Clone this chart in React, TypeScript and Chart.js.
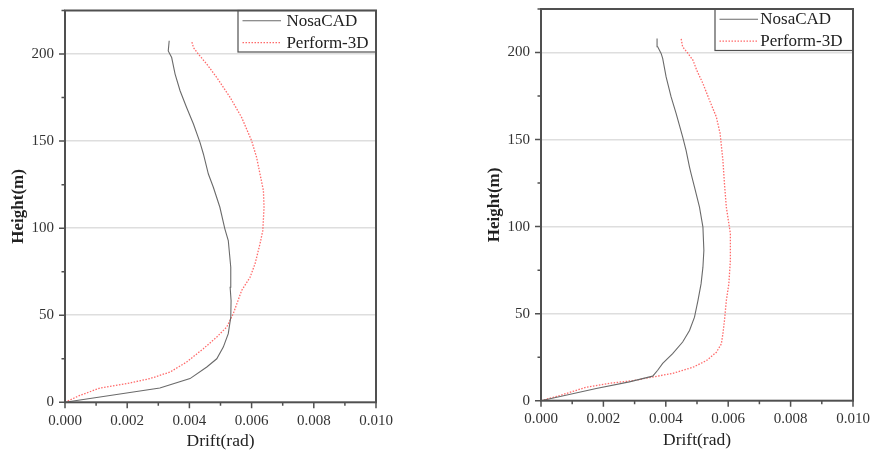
import React, { useEffect, useRef } from "react";
import { Chart, registerables } from "chart.js";

Chart.register(...registerables);

// ---- data ----
const seriesNames = ["NosaCAD", "Perform-3D"];
const xTickValues = [0, 0.002, 0.004, 0.006, 0.008, 0.01];
const yTickValues = [0, 50, 100, 150, 200];

// left panel
const leftNosaHeight = [0, 8.2, 13.6, 20.3, 25, 31.7, 39.4, 48.9, 58.5, 66.1, 77.6, 92.9, 99.6, 112, 123.5, 131.1, 142.6, 149.3, 159.8, 169.3, 178.9, 188.5, 198, 201.8, 207.6];
const leftNosaDrift = [0, 0.00305, 0.00402, 0.00456, 0.00488, 0.00509, 0.00525, 0.00533, 0.00534, 0.00531, 0.00533, 0.00525, 0.00514, 0.00498, 0.00477, 0.00461, 0.00445, 0.00434, 0.00413, 0.00391, 0.0037, 0.00354, 0.00343, 0.00332, 0.00335];
const leftPerfHeight = [0, 4, 8.2, 10.7, 13.6, 17.4, 23.1, 30.8, 37.5, 43.2, 50.9, 64.2, 71.8, 79.5, 91, 98.6, 112, 121.6, 131.1, 140.7, 150.2, 163.6, 175.1, 186.5, 194.2, 199.9, 203.7, 207.6];
const leftPerfDrift = [0, 0.00048, 0.00113, 0.00198, 0.00273, 0.00338, 0.00391, 0.00445, 0.00488, 0.0052, 0.00541, 0.00568, 0.00595, 0.00611, 0.00627, 0.00636, 0.0064, 0.00638, 0.00627, 0.00616, 0.006, 0.00568, 0.00531, 0.00488, 0.00456, 0.00429, 0.00413, 0.00407];

// right panel
const rightNosaHeight = [0, 7, 10.8, 14.1, 17.5, 21.4, 27, 33.7, 40.3, 48, 57.5, 67.1, 76.7, 86.3, 99.7, 111.2, 122.7, 130.4, 134.2, 143.8, 151.5, 165, 174.5, 186, 196.6, 199.5, 203.3, 208];
const rightNosaDrift = [0, 0.00177, 0.00283, 0.00358, 0.00374, 0.0039, 0.00422, 0.00454, 0.00476, 0.00492, 0.00503, 0.00513, 0.00519, 0.00522, 0.00519, 0.00508, 0.00492, 0.00481, 0.00476, 0.00465, 0.00454, 0.00433, 0.00417, 0.00401, 0.0039, 0.00385, 0.00374, 0.00372];
const rightPerfHeight = [0, 2.9, 7.7, 10, 11.5, 13.8, 15.7, 19.2, 23, 27.8, 32.6, 38.4, 46, 57.5, 67.1, 80.6, 95.9, 111.2, 124.7, 138.1, 153.5, 163, 172.6, 182.2, 189.9, 195.6, 199.5, 203.3, 208];
const rightPerfDrift = [0, 0.00059, 0.00144, 0.00219, 0.00294, 0.00364, 0.00422, 0.00487, 0.0053, 0.00562, 0.00578, 0.00583, 0.00588, 0.00594, 0.00602, 0.00607, 0.00607, 0.00594, 0.00588, 0.00583, 0.00574, 0.00562, 0.0054, 0.00519, 0.00499, 0.00487, 0.00471, 0.00454, 0.00449];

const SERIF = '"Liberation Serif", "Times New Roman", serif';
const AXIS_COLOR = "#505050";
const NOSA_COLOR = "#6a6a6a";
const PERF_COLOR = "rgba(255,90,90,0.9)";

type PanelProps = {
  nosaH: number[];
  nosaD: number[];
  perfH: number[];
  perfD: number[];
  left: number;
  width: number;
  padTop: number;
  padRight: number;
  xAxisHeight: number;
  xTitlePad: number;
  legendTextOffset: number;
};

function isMajorX(v: number) {
  const k = Math.round(v * 1000);
  return xTickValues.some((t) => Math.round(t * 1000) === k);
}
function isMajorY(v: number) {
  return yTickValues.includes(Math.round(v));
}

function Panel(p: PanelProps) {
  const ref = useRef<HTMLCanvasElement | null>(null);
  useEffect(() => {
    if (!ref.current) return;
    const toPts = (h: number[], d: number[]) => h.map((y, i) => ({ x: d[i], y }));
    const frame = {
      id: "frameTicksLegend",
      afterDraw(chart: any) {
        const { ctx, chartArea: ca, scales } = chart;
        const xs = scales.x;
        const ys = scales.y;
        ctx.save();
        // ticks
        ctx.strokeStyle = AXIS_COLOR;
        ctx.lineWidth = 1.5;
        ctx.beginPath();
        ys.ticks.forEach((t: any) => {
          const py = ys.getPixelForValue(t.value);
          const len = isMajorY(t.value) ? 6 : 3.5;
          ctx.moveTo(ca.left - len, py);
          ctx.lineTo(ca.left, py);
        });
        xs.ticks.forEach((t: any) => {
          const px = xs.getPixelForValue(t.value);
          const len = isMajorX(t.value) ? 6 : 3.5;
          ctx.moveTo(px, ca.bottom);
          ctx.lineTo(px, ca.bottom + len);
        });
        ctx.stroke();
        // legend
        const bw = 138;
        const bh = 41.5;
        const bx = ca.right - bw;
        const by = ca.top;
        ctx.fillStyle = "#fff";
        ctx.fillRect(bx, by, bw, bh);
        ctx.strokeStyle = AXIS_COLOR;
        ctx.lineWidth = 1.2;
        ctx.strokeRect(bx, by, bw, bh);
        const rows = [by + 10.3, by + 32.2];
        chart.data.datasets.forEach((ds: any, i: number) => {
          const y = rows[i];
          ctx.beginPath();
          ctx.strokeStyle = ds.borderColor;
          ctx.lineWidth = ds.borderWidth;
          ctx.setLineDash(ds.borderDash || []);
          ctx.moveTo(bx + 4.5, y);
          ctx.lineTo(bx + 43, y);
          ctx.stroke();
          ctx.setLineDash([]);
          ctx.fillStyle = "#222";
          ctx.font = "17px " + SERIF;
          ctx.textBaseline = "middle";
          ctx.textAlign = "left";
          ctx.fillText(ds.label, bx + p.legendTextOffset, y + 0.5);
        });
        // frame
        ctx.strokeStyle = AXIS_COLOR;
        ctx.lineWidth = 2;
        ctx.strokeRect(ca.left, ca.top, ca.right - ca.left, ca.bottom - ca.top);
        ctx.restore();
      },
    };
    const chart = new Chart(ref.current, {
      type: "line",
      data: {
        datasets: [
          {
            label: seriesNames[0],
            data: toPts(p.nosaH, p.nosaD),
            borderColor: NOSA_COLOR,
            borderWidth: 1.1,
            pointRadius: 0,
            tension: 0,
            fill: false,
          },
          {
            label: seriesNames[1],
            data: toPts(p.perfH, p.perfD),
            borderColor: PERF_COLOR,
            borderWidth: 1.3,
            borderDash: [1.5, 1.5],
            pointRadius: 0,
            tension: 0,
            fill: false,
          },
        ],
      },
      options: {
        animation: false,
        responsive: false,
        devicePixelRatio: 1,
        layout: { padding: { left: 0, top: p.padTop, right: p.padRight, bottom: 0 } },
        plugins: { legend: { display: false }, tooltip: { enabled: false } },
        scales: {
          x: {
            type: "linear",
            min: 0,
            max: 0.01,
            border: { display: false },
            grid: { color: "rgba(0,0,0,0)", tickColor: "rgba(0,0,0,0)", tickLength: 6 },
            ticks: {
              stepSize: 0.001,
              autoSkip: false,
              maxRotation: 0,
              padding: 3.5,
              color: "#333",
              font: { family: SERIF, size: 15 },
              callback: (v: any) => (isMajorX(Number(v)) ? Number(v).toFixed(3) : ""),
            },
            title: {
              display: true,
              text: "Drift(rad)",
              color: "#222",
              font: { family: SERIF, size: 17.5 },
              padding: { top: 0, bottom: p.xTitlePad },
            },
            afterFit: (s: any) => {
              s.height = p.xAxisHeight;
              s.paddingLeft = 0;
              s.paddingRight = 0;
            },
          },
          y: {
            type: "linear",
            min: 0,
            max: 225,
            border: { display: false },
            grid: {
              color: (c: any) =>
                c.tick && isMajorY(c.tick.value) && c.tick.value > 0 ? "#dedede" : "rgba(0,0,0,0)",
              lineWidth: 1.5,
              tickColor: "rgba(0,0,0,0)",
              tickLength: 6,
            },
            ticks: {
              stepSize: 25,
              autoSkip: false,
              padding: 5,
              color: "#333",
              font: { family: SERIF, size: 15 },
              callback: (v: any) => (isMajorY(Number(v)) ? String(v) : ""),
            },
            title: {
              display: true,
              text: "Height(m)",
              color: "#222",
              font: { family: SERIF, size: 17, weight: "bold" },
              padding: { top: 8.7, bottom: 0 },
            },
            afterFit: (s: any) => {
              s.width = 65;
              s.paddingTop = 0;
              s.paddingBottom = 0;
            },
          },
        },
      },
      plugins: [frame],
    } as any);
    return () => chart.destroy();
  }, []);
  return (
    <canvas
      ref={ref}
      width={p.width}
      height={454}
      style={{ position: "absolute", left: p.left, top: 0, width: p.width, height: 454 }}
    />
  );
}

export default function App() {
  return (
    <div style={{ position: "absolute", left: 0, top: 0, width: 872, height: 454, background: "#fff" }}>
      <Panel
        nosaH={leftNosaHeight}
        nosaD={leftNosaDrift}
        perfH={leftPerfHeight}
        perfD={leftPerfDrift}
        left={0}
        width={436}
        padTop={10.5}
        padRight={60}
        xAxisHeight={51.7}
        xTitlePad={1.8}
        legendTextOffset={48.4}
      />
      <Panel
        nosaH={rightNosaHeight}
        nosaD={rightNosaDrift}
        perfH={rightPerfHeight}
        perfD={rightPerfDrift}
        left={476}
        width={396}
        padTop={9}
        padRight={19}
        xAxisHeight={53.3}
        xTitlePad={2.8}
        legendTextOffset={45.3}
      />
    </div>
  );
}
